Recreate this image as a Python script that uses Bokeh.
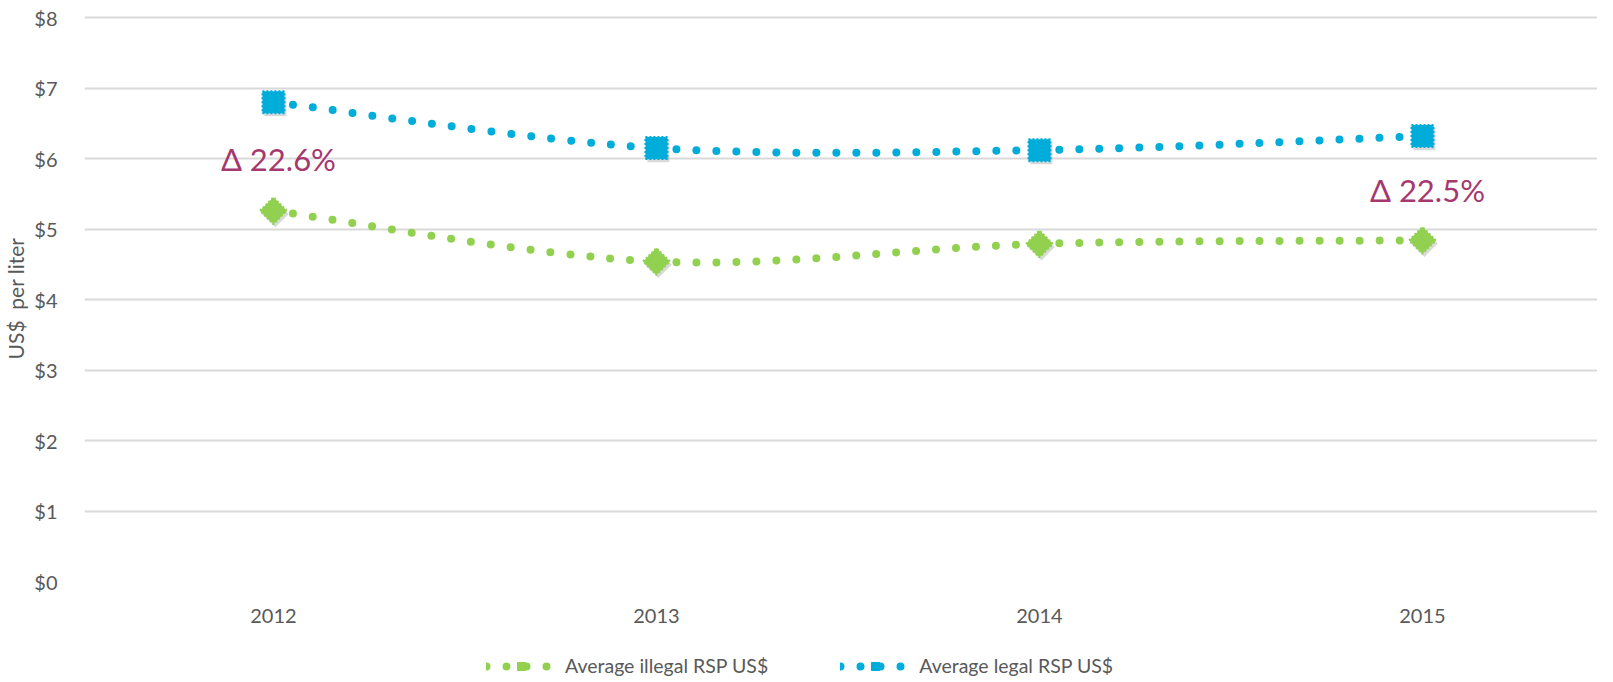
import numpy as np
from bokeh.plotting import figure
from bokeh.layouts import column
from bokeh.models import (Range1d, FixedTicker, NumeralTickFormatter, Legend,
                          LegendItem, ColumnDataSource)
from bokeh.core.properties import value
from bokeh.embed import file_html
from bokeh.resources import INLINE

# ---- data ----
years = ["2012", "2013", "2014", "2015"]
illegal_rsp = [5.26, 4.54, 4.79, 4.84]
legal_rsp = [6.80, 6.15, 6.12, 6.32]
delta_labels = ["\u0394 22.6%", "\u0394 22.5%"]
delta_years = ["2012", "2015"]
series_names = ["Average illegal RSP US$", "Average legal RSP US$"]

GREEN = "#92D050"
BLUE = "#00ACD9"
GREY = "#595959"
FONT = "Lato"

xpos = [i + 0.5 for i in range(len(years))]


def smooth(xs, ys, t=1.0 / 6.0):
    """Bezier control points for a smoothed line through the points."""
    n = len(xs)
    P = list(zip(xs, ys))
    d = dict(x0=[], y0=[], x1=[], y1=[], cx0=[], cy0=[], cx1=[], cy1=[])
    for i in range(n - 1):
        pm = P[max(i - 1, 0)]
        p0 = P[i]
        p1 = P[i + 1]
        p2 = P[min(i + 2, n - 1)]
        d["x0"].append(p0[0]); d["y0"].append(p0[1])
        d["x1"].append(p1[0]); d["y1"].append(p1[1])
        d["cx0"].append(p0[0] + (p1[0] - pm[0]) * t)
        d["cy0"].append(p0[1] + (p1[1] - pm[1]) * t)
        d["cx1"].append(p1[0] - (p2[0] - p0[0]) * t)
        d["cy1"].append(p1[1] - (p2[1] - p0[1]) * t)
    return ColumnDataSource(d)


p = figure(width=1597, height=629,
           x_range=Range1d(0.0067, 3.957), y_range=Range1d(0, 8.03),
           output_backend="svg", toolbar_location=None,
           min_border_top=15, min_border_left=82, min_border_right=0,
           min_border_bottom=48)
p.outline_line_color = None
p.background_fill_color = "white"
p.border_fill_color = "white"

# grid
p.xgrid.grid_line_color = None
p.ygrid.grid_line_color = "#D9D9D9"
p.ygrid.grid_line_width = 2

# axes
p.yaxis.ticker = FixedTicker(ticks=list(range(0, 9)))
p.yaxis.formatter = NumeralTickFormatter(format="$0")
p.yaxis.axis_label = "US$\u00a0\u00a0per liter"
p.yaxis.axis_label_text_font = FONT
p.yaxis.axis_label_text_font_size = "21px"
p.yaxis.axis_label_text_font_style = "normal"
p.yaxis.axis_label_text_color = GREY
p.yaxis.axis_label_standoff = 3
p.yaxis.major_label_standoff = 21

p.xaxis.ticker = FixedTicker(ticks=xpos)
p.xaxis.major_label_overrides = {x: y for x, y in zip(xpos, years)}
p.xaxis.major_label_standoff = 21

for ax in (p.xaxis, p.yaxis):
    ax.axis_line_color = None
    ax.major_tick_line_color = None
    ax.minor_tick_line_color = None
    ax.major_label_text_font = FONT
    ax.major_label_text_font_size = "20px"
    ax.major_label_text_color = GREY

styles = [(GREEN, "square", 19, np.pi / 4), (BLUE, "square", 22, 0.0)]
for vals, (color, marker, size, angle) in zip((illegal_rsp, legal_rsp), styles):
    src = smooth(xpos, vals)
    p.bezier(x0="x0", y0="y0", x1="x1", y1="y1", cx0="cx0", cy0="cy0",
             cx1="cx1", cy1="cy1", source=src, line_color=color,
             line_width=8, line_dash="0 20", line_cap="round")
    # soft shadow under the markers
    p.scatter([x + 0.005 for x in xpos], [v - 0.045 for v in vals],
              marker=marker, size=size, angle=angle,
              fill_color="#000000", fill_alpha=0.15, line_color=None)
    p.scatter(xpos, vals, marker=marker, size=size, angle=angle,
              fill_color=color, line_color=color, line_width=2,
              line_dash="2 2")

# delta annotations, midway between the two series
idx = [years.index(y) for y in delta_years]
p.text(x=[xpos[i] for i in idx],
       y=[(legal_rsp[i] + illegal_rsp[i]) / 2 - 0.03 for i in idx],
       text=delta_labels, text_font=value(FONT), text_font_size="31px",
       text_color="#A5386F", text_align="center", text_baseline="middle",
       x_offset=5)

# ---- legend strip (series drawn out of view; only the legend shows) ----
leg = figure(width=1597, height=48, x_range=Range1d(100, 101),
             y_range=Range1d(100, 101), output_backend="svg",
             toolbar_location=None, x_axis_location=None, y_axis_location=None,
             min_border_left=0, min_border_right=0, min_border_top=0,
             min_border_bottom=0)
leg.grid.visible = False
leg.outline_line_color = None
items = []
for name, vals, (color, marker, size, angle) in zip(
        series_names, (illegal_rsp, legal_rsp), styles):
    lr = leg.line(x=xpos, y=vals, line_color=color, line_width=8,
                  line_dash="0 20", line_cap="round")
    mr = leg.scatter(x=xpos, y=vals, marker=marker, angle=angle,
                     fill_color=color, line_color=color)
    items.append(LegendItem(label=name, renderers=[lr, mr]))

legend = Legend(items=items, orientation="horizontal", location=(402, 0),
                glyph_width=70, glyph_height=20, label_standoff=9,
                spacing=72, padding=0, margin=0,
                label_text_font=FONT, label_text_font_size="19.5px",
                label_text_color=GREY, border_line_color=None,
                background_fill_alpha=0)
leg.add_layout(legend, "center")

open("out.html", "w").write(file_html(column(p, leg, spacing=0), INLINE))
